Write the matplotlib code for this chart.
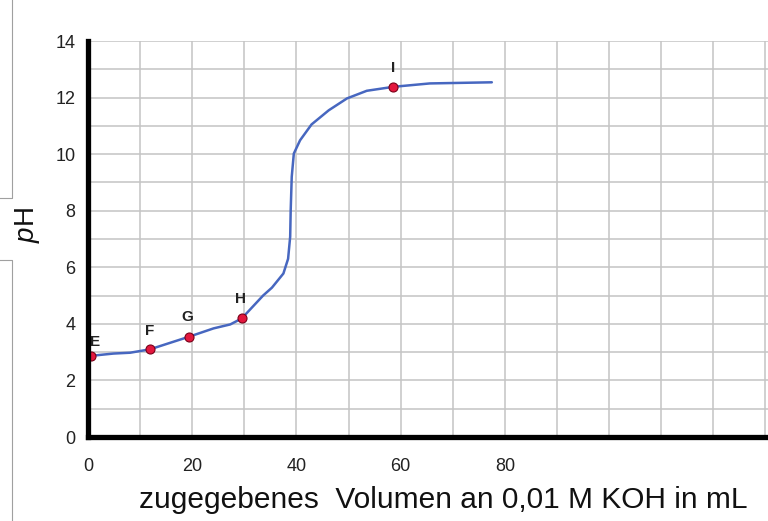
import matplotlib
matplotlib.use("Agg")
from matplotlib import pyplot as plt
from matplotlib.lines import Line2D
from matplotlib.ticker import MultipleLocator

# Titration curve (mL KOH, pH)
volume = [0, 0.6, 4.9, 8.1, 11.9, 19.3, 24.1, 27.3, 29.5, 33.6, 35.3, 37.5,
          38.4, 38.8, 38.9, 39.1, 39.5, 40.7, 42.9, 46.2, 49.7, 53.5, 58.6,
          65.6, 77.5]
ph = [2.86, 2.87, 2.95, 2.98, 3.10, 3.54, 3.84, 3.98, 4.19, 5.00, 5.28, 5.78,
      6.30, 7.08, 8.02, 9.20, 10.02, 10.49, 11.05, 11.55, 11.97, 12.24, 12.38,
      12.50, 12.54]

# Marked points
point_names = ["E", "F", "G", "H", "I"]
point_vol = [0.6, 11.9, 19.3, 29.5, 58.6]
point_ph = [2.87, 3.10, 3.54, 4.19, 12.38]
label_offsets = [(3, 5), (0, 8), (-1, 9), (-1, 9), (0, 8.5)]

x_ticks = [0, 20, 40, 60, 80]
y_ticks = [0, 2, 4, 6, 8, 10, 12, 14]

plt.rcParams["font.family"] = ["Liberation Sans", "DejaVu Sans"]
plt.rcParams["mathtext.fontset"] = "custom"
plt.rcParams["mathtext.it"] = "Liberation Sans:italic"
plt.rcParams["mathtext.rm"] = "Liberation Sans"

fig = plt.figure(figsize=(7.68, 5.21), dpi=100)
ax = fig.add_axes([88 / 768, 1 - 437 / 521, 1 - 88 / 768, (437 - 41) / 521])

ax.plot(volume, ph, color="#4767c0", lw=1.8, zorder=3,
        solid_joinstyle="round", solid_capstyle="round")
ax.plot(point_vol, point_ph, "o", ms=6.5, mfc="#e3173e", mec="#7a0018",
        mew=0.8, zorder=4)
for name, vx, vy, off in zip(point_names, point_vol, point_ph, label_offsets):
    ax.annotate(name, (vx, vy), xytext=off, textcoords="offset points",
                ha="center", va="bottom", fontsize=11, fontweight="bold",
                color="#222222", zorder=7)

ax.set_xlim(0, 130.5)
ax.set_ylim(0, 14)
ax.set_xticks(x_ticks)
ax.set_yticks(y_ticks)
ax.xaxis.set_minor_locator(MultipleLocator(10))
ax.yaxis.set_minor_locator(MultipleLocator(1))
ax.grid(which="both", color="#c4c4c4", lw=1.1)
ax.set_axisbelow(True)
ax.tick_params(which="both", length=0, labelsize=13, colors="#222222")
ax.tick_params(axis="x", pad=15)
ax.tick_params(axis="y", pad=9)

for side in ["top", "right"]:
    ax.spines[side].set_visible(False)
for side in ["left", "bottom"]:
    ax.spines[side].set_linewidth(3.8)
    ax.spines[side].set_color("black")
    ax.spines[side].set_zorder(5)

# axis titles
fig.text(443 / 768, 1 - 500 / 521, "zugegebenes  Volumen an 0,01 M KOH in mL",
         fontsize=21.5, color="#111111", ha="center", va="center")
fig.text(28 / 768, 1 - 225 / 521, r"$\it{p}$H", fontsize=20, color="#111111",
         ha="center", va="center", rotation=90)

# left frame remnants of the scan
for xs, ys in [([12, 12, 0], [0, 198, 198]), ([0, 12, 12], [260, 260, 521])]:
    fig.add_artist(Line2D([v / 768 for v in xs], [1 - v / 521 for v in ys],
                          color="#a0a0a0", lw=0.8))

fig.savefig("out.png", dpi=100)
